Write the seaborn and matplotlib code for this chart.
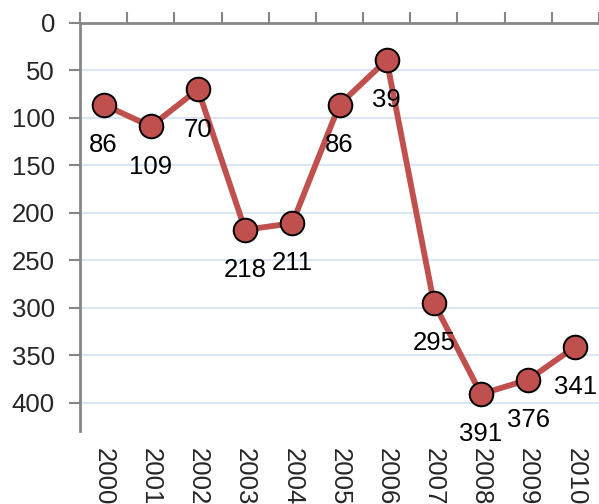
import numpy as np
import pandas as pd
import matplotlib
matplotlib.use('Agg')
import matplotlib.pyplot as plt
import seaborn as sns

# ---- data ----
years = ['2000', '2001', '2002', '2003', '2004', '2005',
         '2006', '2007', '2008', '2009', '2010']
ranks = [86, 109, 70, 218, 211, 86, 39, 295, 391, 376, 341]
y_ticks = [0, 50, 100, 150, 200, 250, 300, 350, 400]

df = pd.DataFrame({'pos': np.arange(len(years)), 'rank': ranks})

sns.set_style('white')
plt.rcParams['font.family'] = ['Liberation Sans', 'DejaVu Sans']
fs = 18.5

fig = plt.figure(figsize=(5.99, 5.04), dpi=100)
ax = fig.add_axes([80 / 599, 1 - 431 / 504, 1 - 80 / 599, (431 - 23) / 504])

sns.lineplot(data=df, x='pos', y='rank', ax=ax, color='#C0504D',
             linewidth=4.2, marker='o', markersize=17,
             markerfacecolor='#C0504D', markeredgecolor='black',
             markeredgewidth=1.4, zorder=3)

# value labels under each point
for i, v in enumerate(ranks):
    ax.annotate(str(v), (i, v), xytext=(0, -29), textcoords='offset points',
                ha='center', va='center', fontsize=fs, color='black')

ax.set_xlim(-0.5, len(years) - 0.5)
ax.set_ylim(430, 0)
ax.set_yticks(y_ticks)
ax.set_yticklabels([str(t) for t in y_ticks], fontsize=fs)
ax.yaxis.grid(True, color='#DCE6F2', linewidth=1.5)
ax.set_axisbelow(True)

# category labels at the bottom, boundary ticks on the top axis line
ax.set_xticks(range(len(years)))
ax.set_xticklabels(years, rotation=270, fontsize=fs)
ax.tick_params(axis='x', which='major', bottom=True, top=False, length=0, pad=12)
ax.set_xticks(np.arange(-0.5, len(years), 1), minor=True)
ax.tick_params(axis='x', which='minor', top=True, bottom=False, direction='out',
               length=8, width=1.5, color='#868686')
ax.tick_params(axis='y', left=True, direction='out', length=8, width=1.5,
               color='#868686', pad=10)

for side in ['right', 'bottom']:
    ax.spines[side].set_visible(False)
for side in ['left', 'top']:
    ax.spines[side].set_color('#868686')
    ax.spines[side].set_linewidth(2)

ax.set_xlabel('')
ax.set_ylabel('')

fig.savefig('out.png', dpi=100)
